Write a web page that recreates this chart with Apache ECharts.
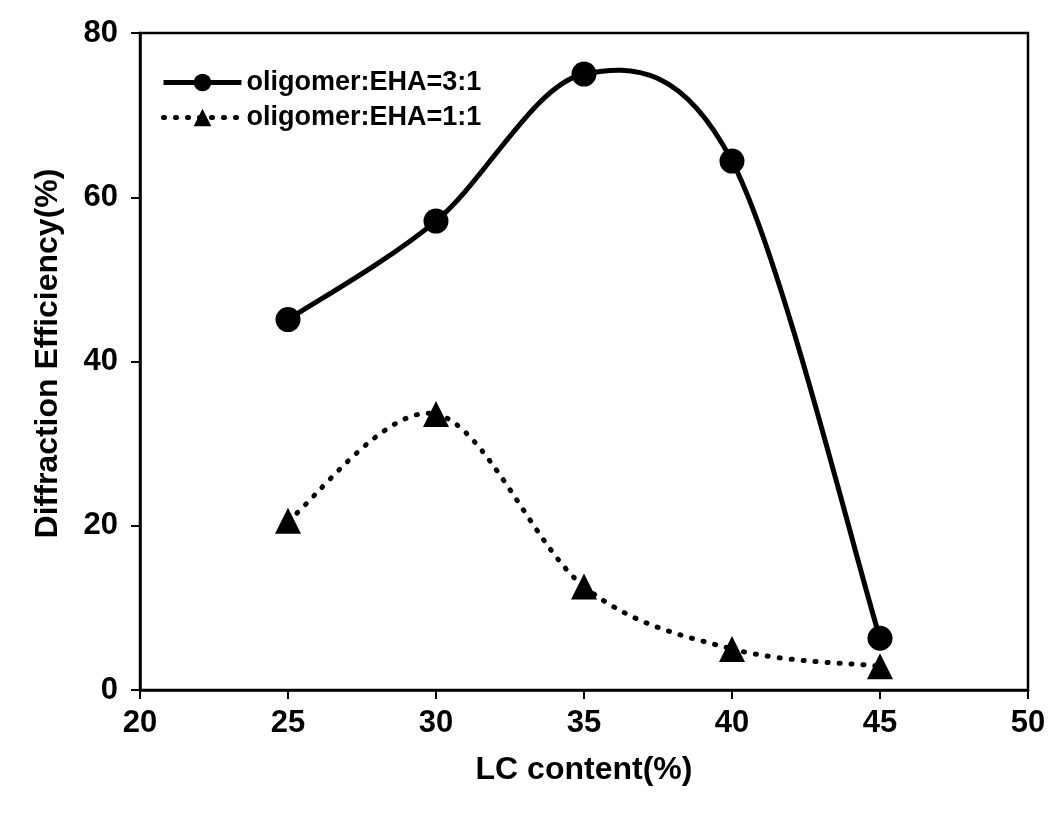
<!DOCTYPE html>
<html>
<head>
<meta charset="utf-8">
<script src="https://cdn.jsdelivr.net/npm/echarts@6/dist/echarts.min.js"></script>
<style>
html,body{margin:0;padding:0;background:#fff;}
#chart{width:1054px;height:814px;}
</style>
</head>
<body>
<div id="chart"></div>
<script>
const lcContent = [25, 30, 35, 40, 45];
const ratio31 = [45.1, 57.1, 75.0, 64.4, 6.3];
const ratio11 = [20.6, 33.6, 12.6, 5.0, 2.9];
const seriesNames = ['oligomer:EHA=3:1', 'oligomer:EHA=1:1'];
const xTitle = 'LC content(%)';
const yTitle = 'Diffraction Efficiency(%)';

const font = '"Liberation Sans", Arial, sans-serif';
const dotted = [1, 11];

// Catmull-Rom style curve drawn through the data points, in pixel space given by the axes
function curveRenderer(xs, ys, dash) {
  return function (params, api) {
    if (params.dataIndex !== 0) return null;
    const p = xs.map((x, i) => api.coord([x, ys[i]]));
    const n = p.length;
    const children = [];
    for (let i = 0; i < n - 1; i++) {
      const p0 = p[Math.max(i - 1, 0)], p1 = p[i], p2 = p[i + 1], p3 = p[Math.min(i + 2, n - 1)];
      children.push({
        type: 'bezierCurve',
        shape: {
          x1: p1[0], y1: p1[1], x2: p2[0], y2: p2[1],
          cpx1: p1[0] + (p2[0] - p0[0]) / 6, cpy1: p1[1] + (p2[1] - p0[1]) / 6,
          cpx2: p2[0] - (p3[0] - p1[0]) / 6, cpy2: p2[1] - (p3[1] - p1[1]) / 6
        },
        style: {stroke: '#000', fill: null, lineWidth: 5, lineDash: dash, lineCap: 'round'}
      });
    }
    return {type: 'group', children: children};
  };
}

const chart = echarts.init(document.getElementById('chart'));
chart.setOption({
  animation: false,
  backgroundColor: '#fff',
  grid: {left: 140, right: 26, top: 33, bottom: 124, show: true, borderColor: '#000', borderWidth: 2.5},
  legend: {
    left: 156, top: 64, orient: 'vertical', itemWidth: 78, itemHeight: 22, itemGap: 8,
    textStyle: {fontFamily: font, fontSize: 27, fontWeight: 'bold', color: '#000'},
    data: [
      {name: seriesNames[0], lineStyle: {width: 5, color: '#000', opacity: 1}},
      {name: seriesNames[1], lineStyle: {width: 5, color: '#000', opacity: 1, type: dotted, cap: 'round'}}
    ]
  },
  xAxis: {
    type: 'value', min: 20, max: 50, interval: 5,
    name: xTitle, nameLocation: 'middle', nameGap: 64,
    nameTextStyle: {fontFamily: font, fontSize: 32, fontWeight: 'bold', color: '#000'},
    axisLine: {show: true, onZero: false, lineStyle: {color: '#000', width: 2.5}},
    axisTick: {show: true, length: 9, lineStyle: {color: '#000', width: 2}},
    axisLabel: {fontFamily: font, fontSize: 31, fontWeight: 'bold', color: '#000', margin: 18},
    splitLine: {show: false}
  },
  yAxis: {
    type: 'value', min: 0, max: 80, interval: 20,
    name: yTitle, nameLocation: 'middle', nameGap: 76,
    nameTextStyle: {fontFamily: font, fontSize: 32, fontWeight: 'bold', color: '#000', padding: [0, 0, 0, 16]},
    axisLine: {show: true, lineStyle: {color: '#000', width: 2.5}},
    axisTick: {show: true, length: 9, lineStyle: {color: '#000', width: 2}},
    axisLabel: {fontFamily: font, fontSize: 31, fontWeight: 'bold', color: '#000', margin: 22},
    splitLine: {show: false}
  },
  series: [
    {
      type: 'custom', silent: true, z: 1,
      data: lcContent.map((x, i) => [x, ratio31[i]]),
      renderItem: curveRenderer(lcContent, ratio31, null)
    },
    {
      type: 'custom', silent: true, z: 1,
      data: lcContent.map((x, i) => [x, ratio11[i]]),
      renderItem: curveRenderer(lcContent, ratio11, dotted)
    },
    {
      name: seriesNames[0], type: 'line', z: 3,
      data: lcContent.map((x, i) => [x, ratio31[i]]),
      symbol: 'circle', symbolSize: 25,
      itemStyle: {color: '#000'},
      lineStyle: {color: '#000', width: 5, opacity: 0}
    },
    {
      name: seriesNames[1], type: 'line', z: 3,
      data: lcContent.map((x, i) => [x, ratio11[i]]),
      symbol: 'triangle', symbolSize: 26,
      itemStyle: {color: '#000'},
      lineStyle: {color: '#000', width: 5, opacity: 0, type: dotted, cap: 'round'}
    }
  ]
});
</script>
</body>
</html>
